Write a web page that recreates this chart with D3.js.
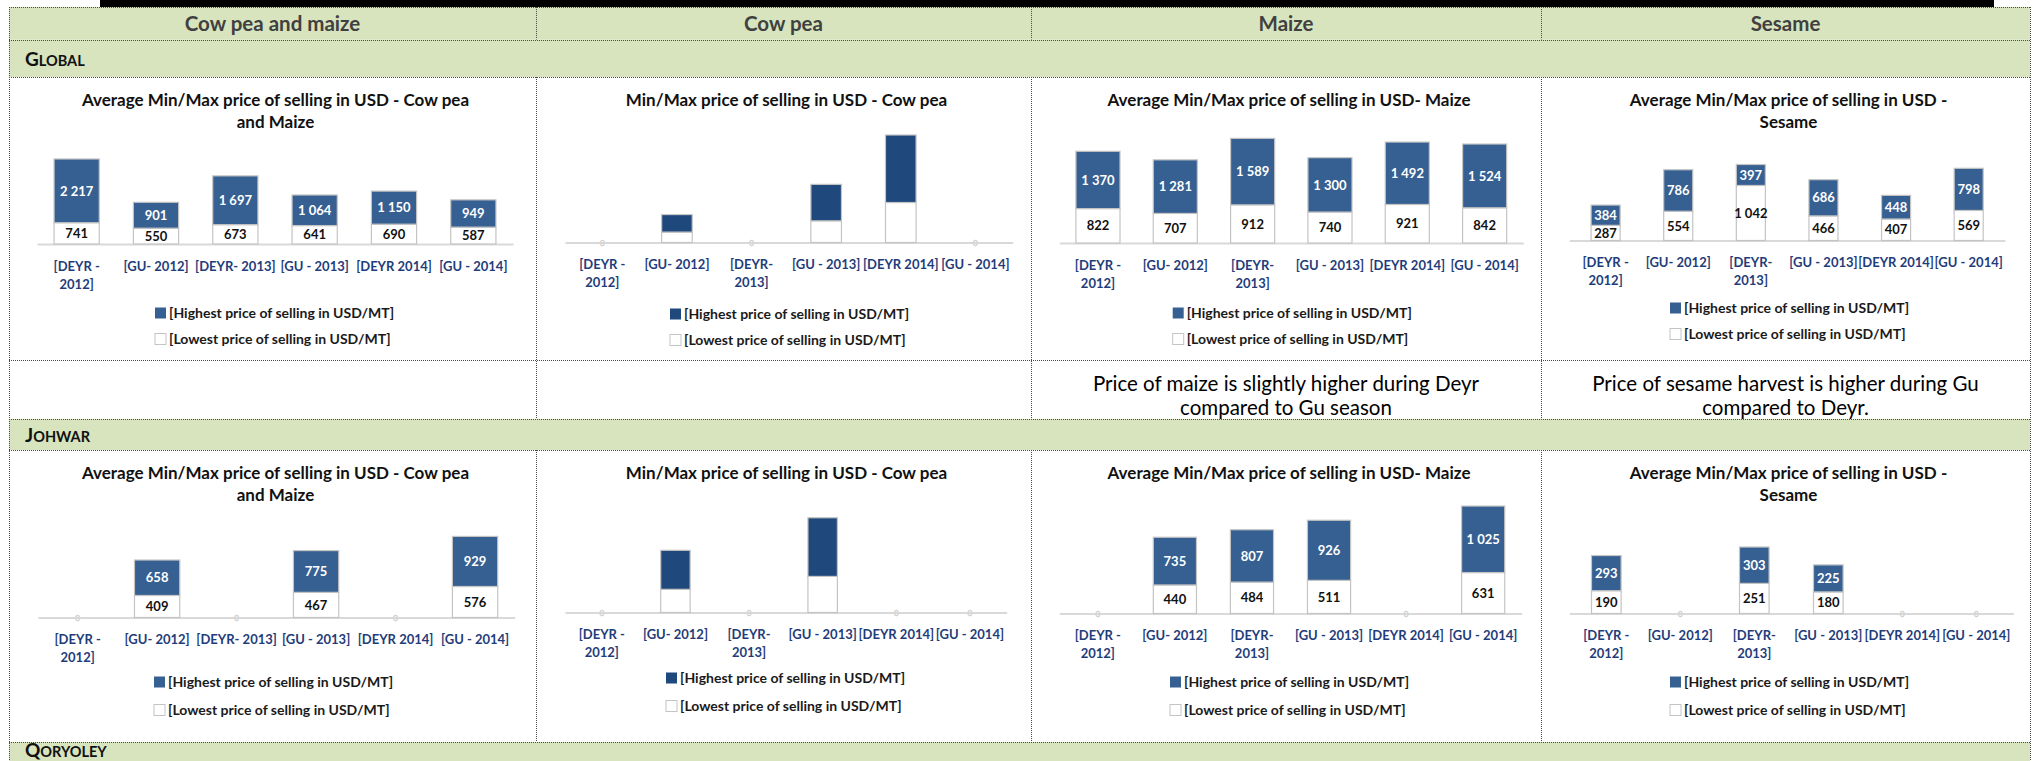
<!DOCTYPE html>
<html>
<head>
<meta charset="utf-8">
<script src="https://cdn.jsdelivr.net/npm/d3@7"></script>
<style>
  html, body { margin: 0; padding: 0; background: #fff; }
  svg { display: block; font-family: Lato, "Open Sans", sans-serif; }
</style>
</head>
<body>
<svg id="sheet" width="2034" height="761"></svg>
<script>
// ---- Categories and labels ----
const seasons = ["[DEYR - 2012]", "[GU- 2012]", "[DEYR- 2013]", "[GU - 2013]", "[DEYR 2014]", "[GU - 2014]"];
const columnHeads = ["Cow pea and maize", "Cow pea", "Maize", "Sesame"];
const regionNames = ["Global", "Johwar", "Qoryoley"];
const seriesNames = ["[Highest price of selling in USD/MT]", "[Lowest price of selling in USD/MT]"];

const titleMix = ["Average Min/Max price of selling in USD - Cow pea", "and Maize"];
const titleCowpea = ["Min/Max price of selling in USD - Cow pea"];
const titleMaize = ["Average Min/Max price of selling in USD- Maize"];
const titleSesame = ["Average Min/Max price of selling in USD -", "Sesame"];

const notesMaize = ["Price of maize is slightly higher during Deyr", "compared to Gu season"];
const notesSesame = ["Price of sesame harvest is higher during Gu", "compared to Deyr."];

// ---- Prices (USD/MT), one value per season; 0 = no market data ----
const globalMixLow = [741, 550, 673, 641, 690, 587];
const globalMixHigh = [2217, 901, 1697, 1064, 1150, 949];
const globalCowpeaLow = [0, 250, 0, 520, 960, 0];
const globalCowpeaHigh = [0, 420, 0, 875, 1620, 0];
const globalMaizeLow = [822, 707, 912, 740, 921, 842];
const globalMaizeHigh = [1370, 1281, 1589, 1300, 1492, 1524];
const globalSesameLow = [287, 554, 1042, 466, 407, 569];
const globalSesameHigh = [384, 786, 397, 686, 448, 798];

const johwarMixLow = [0, 409, 0, 467, 0, 576];
const johwarMixHigh = [0, 658, 0, 775, 0, 929];
const johwarCowpeaLow = [0, 360, 0, 560, 0, 0];
const johwarCowpeaHigh = [0, 605, 0, 910, 0, 0];
const johwarMaizeLow = [0, 440, 484, 511, 0, 631];
const johwarMaizeHigh = [0, 735, 807, 926, 0, 1025];
const johwarSesameLow = [190, 0, 251, 180, 0, 0];
const johwarSesameHigh = [293, 0, 303, 225, 0, 0];

// ---- Sheet layout ----
const colEdges = [9, 536, 1031, 1541, 2030];
const GREEN = "#d7e4bd";
const BORDER = "#4a4a4a";
const BLUE = "#376092";
const NAVY = "#1f497d";
const CAT = "#1f3d7a";

const svg = d3.select("#sheet");
svg.append("rect").attr("width", 2034).attr("height", 761).attr("fill", "#fff");

// strip across the top of the page
svg.append("rect").attr("x", 100).attr("y", 0).attr("width", 1894).attr("height", 7).attr("fill", "#000");

// green bands: header row, region rows
const bands = [[7, 39.5], [39.5, 77], [419, 450], [742, 775]];
svg.selectAll("rect.band").data(bands).join("rect")
  .attr("class", "band")
  .attr("x", colEdges[0]).attr("width", colEdges[4] - colEdges[0])
  .attr("y", d => d[0]).attr("height", d => d[1] - d[0])
  .attr("fill", GREEN);

// dotted cell borders
const grid = svg.append("g").attr("stroke", BORDER).attr("stroke-width", 1).attr("stroke-dasharray", "1 1").attr("fill", "none");
[7, 39.5, 77, 360, 419, 450, 742].forEach(y => {
  grid.append("line").attr("x1", colEdges[0]).attr("x2", colEdges[4]).attr("y1", Math.round(y) + 0.5).attr("y2", Math.round(y) + 0.5);
});
[colEdges[0], colEdges[4]].forEach(x => {
  grid.append("line").attr("x1", x + 0.5).attr("x2", x + 0.5).attr("y1", 7).attr("y2", 761);
});
[[7, 39.5], [77, 419], [450, 742]].forEach(([y0, y1]) => {
  colEdges.slice(1, 4).forEach(x => {
    grid.append("line").attr("x1", x + 0.5).attr("x2", x + 0.5).attr("y1", y0).attr("y2", y1);
  });
});

// column headings
svg.append("g").selectAll("text").data(columnHeads).join("text")
  .attr("x", (d, i) => (colEdges[i] + colEdges[i + 1]) / 2)
  .attr("y", 30.5)
  .attr("text-anchor", "middle")
  .attr("font-size", 20.5).attr("font-weight", 700).attr("fill", "#404040")
  .text(d => d);

// region names in small capitals
function regionLabel(name, baseline) {
  const t = svg.append("text").attr("x", 25).attr("y", baseline)
    .attr("font-weight", 700).attr("fill", "#111");
  t.append("tspan").attr("font-size", 19).text(name[0].toUpperCase());
  t.append("tspan").attr("font-size", 14.5).text(name.slice(1).toUpperCase());
}
regionLabel(regionNames[0], 66);
regionLabel(regionNames[1], 442);
regionLabel(regionNames[2], 757);

// comment row under the Global charts
function noteCell(lines, col) {
  const cx = (colEdges[col] + colEdges[col + 1]) / 2;
  svg.append("text")
    .attr("text-anchor", "middle").attr("font-size", 20.5).attr("fill", "#000")
    .selectAll("tspan").data(lines).join("tspan")
    .attr("x", cx)
    .attr("y", (d, i) => 391 + i * 24)
    .text(d => d);
}
noteCell(notesMaize, 2);
noteCell(notesSesame, 3);

// ---- Stacked min/max bar charts ----
const fmt = d3.formatLocale({ decimal: ",", thousands: "\u00a0", grouping: [3], currency: ["", ""] }).format(",d");
const rowTops = [77, 450];

const panels = [
  { col: 0, row: 0, low: globalMixLow, high: globalMixHigh, title: titleMix, yMax: 3500, plotH: 100.6, base: 244, left: 37, right: 513, band: 0.57, color: BLUE, labels: true, wrap: [0], legY: [313, 339], legX: 155 },
  { col: 1, row: 0, low: globalCowpeaLow, high: globalCowpeaHigh, title: titleCowpea, yMax: 3000, plotH: 125, base: 242.5, left: 565, right: 1012.7, band: 0.41, color: NAVY, labels: false, wrap: [0, 2], legY: [314, 340], legX: 670 },
  { col: 2, row: 0, low: globalMaizeLow, high: globalMaizeHigh, title: titleMaize, yMax: 3000, plotH: 125.5, base: 243, left: 1059.3, right: 1523.3, band: 0.57, color: BLUE, labels: true, wrap: [0, 2], legY: [313, 339], legX: 1172.7 },
  { col: 3, row: 0, low: globalSesameLow, high: globalSesameHigh, title: titleSesame, yMax: 1600, plotH: 84.5, base: 240.5, left: 1569.3, right: 2005, band: 0.4, color: BLUE, labels: true, wrap: [0, 2], legY: [308, 334], legX: 1670 },
  { col: 0, row: 1, low: johwarMixLow, high: johwarMixHigh, title: titleMix, yMax: 1600, plotH: 86.2, base: 617.5, left: 37.9, right: 514.8, band: 0.57, color: BLUE, labels: true, wrap: [0], legY: [682, 710], legX: 154 },
  { col: 1, row: 1, low: johwarCowpeaLow, high: johwarCowpeaHigh, title: titleCowpea, yMax: 1800, plotH: 116, base: 612.5, left: 565, right: 1006.7, band: 0.4, color: NAVY, labels: false, wrap: [0, 2], legY: [678, 706], legX: 666 },
  { col: 2, row: 1, low: johwarMaizeLow, high: johwarMaizeHigh, title: titleMaize, yMax: 1800, plotH: 116.8, base: 613.5, left: 1059.3, right: 1521.7, band: 0.56, color: BLUE, labels: true, wrap: [0, 2], legY: [682, 710], legX: 1170 },
  { col: 3, row: 1, low: johwarSesameLow, high: johwarSesameHigh, title: titleSesame, yMax: 600, plotH: 72, base: 613.5, left: 1569.3, right: 2013.3, band: 0.4, color: BLUE, labels: true, wrap: [0, 2], legY: [682, 710], legX: 1670 }
];

function drawPanel(p) {
  const g = svg.append("g");
  const cx = (colEdges[p.col] + colEdges[p.col + 1]) / 2 + 3;
  const top = rowTops[p.row];

  // title
  g.append("text").attr("text-anchor", "middle").attr("font-size", 17).attr("font-weight", 700).attr("fill", "#111")
    .selectAll("tspan").data(p.title).join("tspan")
    .attr("x", cx).attr("y", (d, i) => top + 29 + i * 22).text(d => d);

  const rows = seasons.map((s, i) => ({ season: s, low: p.low[i], high: p.high[i] }));
  const stacked = d3.stack().keys(["low", "high"])(rows);

  const gap = 1 - p.band;
  const x = d3.scaleBand().domain(seasons).range([p.left, p.right]).paddingInner(gap).paddingOuter(gap / 2);
  const y = d3.scaleLinear().domain([0, p.yMax]).range([p.base, p.base - p.plotH]);

  // category axis
  const axis = g.append("g").attr("transform", `translate(0,${p.base})`)
    .call(d3.axisBottom(x).tickSize(0).tickPadding(0).tickSizeOuter(0));
  axis.select(".domain").attr("stroke", "#d9d9d9").attr("stroke-width", 2);
  axis.selectAll(".tick text").each(function (d, i) {
    const t = d3.select(this).text(null)
      .attr("font-family", "Lato, sans-serif").attr("font-size", 13).attr("font-weight", 700)
      .attr("fill", CAT).attr("y", 0).attr("dy", null);
    let lines = [d];
    if (p.wrap.includes(i)) {
      const k = d.lastIndexOf(" ");
      lines = [d.slice(0, k), d.slice(k + 1)];
    }
    lines.forEach((ln, j) => t.append("tspan").attr("x", 0).attr("y", 26.5 + j * 18).text(ln));
  });

  // stacked bars
  const colors = { low: "#ffffff", high: p.color };
  g.append("g").selectAll("g").data(stacked).join("g")
    .attr("fill", d => colors[d.key])
    .selectAll("rect").data(d => d.filter(v => v[1] > v[0])).join("rect")
    .attr("x", d => x(d.data.season))
    .attr("width", x.bandwidth())
    .attr("y", d => y(d[1]))
    .attr("height", d => y(d[0]) - y(d[1]))
    .attr("stroke", "#c4c4c4").attr("stroke-width", 1.2);

  // empty seasons leave a faint zero mark on the axis
  g.append("g").selectAll("text").data(rows.filter(r => r.low === 0 && r.high === 0)).join("text")
    .attr("x", d => x(d.season) + x.bandwidth() / 2).attr("y", p.base + 3)
    .attr("text-anchor", "middle").attr("font-size", 8).attr("fill", "#fff")
    .attr("stroke", "#cfcfcf").attr("stroke-width", 0.6).text("0");

  // value labels centred in each segment
  if (p.labels) {
    g.append("g").selectAll("g").data(stacked).join("g")
      .attr("fill", d => d.key === "high" ? "#fff" : "#111")
      .selectAll("text").data(d => d.filter(v => v[1] > v[0])).join("text")
      .attr("x", d => x(d.data.season) + x.bandwidth() / 2)
      .attr("y", d => (y(d[0]) + y(d[1])) / 2)
      .attr("dy", "0.36em")
      .attr("text-anchor", "middle").attr("font-size", 13).attr("font-weight", 700)
      .text(d => fmt(d[1] - d[0]));
  }

  // legend
  const leg = g.append("g");
  const legFill = [p.color, "#fff"];
  seriesNames.forEach((name, i) => {
    const ly = p.legY[i];
    leg.append("rect").attr("x", p.legX).attr("y", ly - 5.5).attr("width", 11).attr("height", 11)
      .attr("fill", legFill[i]).attr("stroke", i === 1 ? "#c4c4c4" : "none").attr("stroke-width", 1);
    leg.append("text").attr("x", p.legX + 14).attr("y", ly).attr("dy", "0.35em")
      .attr("font-size", 14).attr("font-weight", 700).attr("fill", "#1a1a1a").text(name);
  });
}

panels.forEach(drawPanel);
</script>
</body>
</html>
